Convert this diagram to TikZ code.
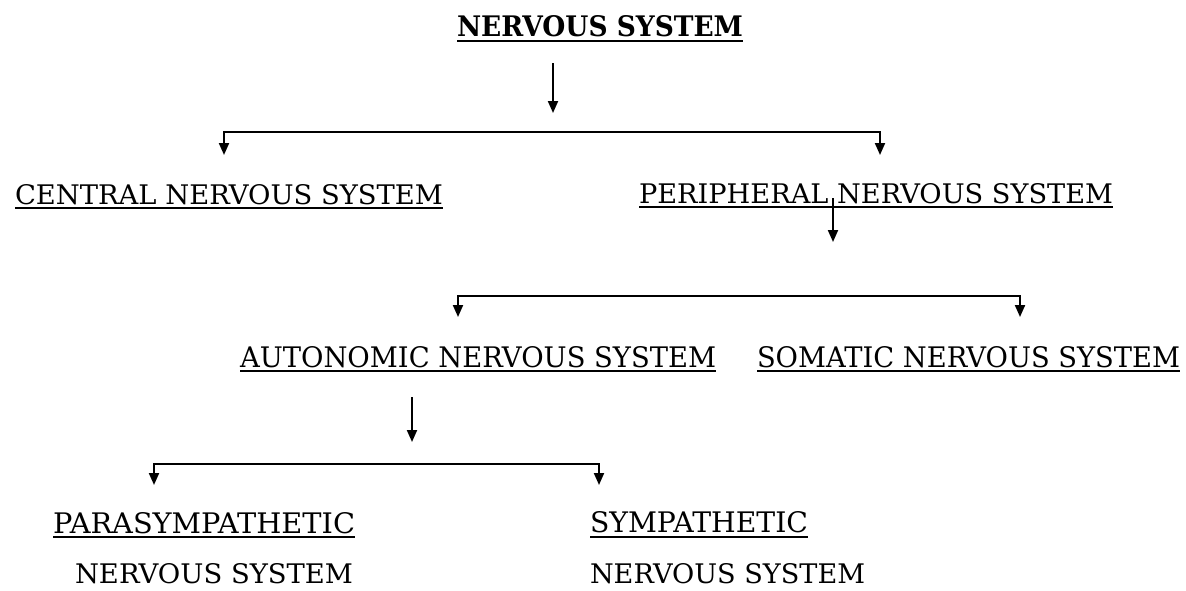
\documentclass[tikz,border=0pt]{standalone}
\usepackage{fontspec}
\usepackage{graphicx}
\setmainfont{DejaVu Serif}
\usetikzlibrary{arrows.meta}
\newcommand\fitt[3]{\resizebox{#1pt}{#2pt}{#3}}
\tikzset{
  lbl/.style={inner sep=0pt, outer sep=0pt, anchor=base west, text=black},
  uline/.style={line width=2pt, black},
  conn/.style={line width=2pt, black, -{Triangle[length=12pt,width=10pt]}},
  branch/.style={line width=2pt, black, {Triangle[length=12pt,width=10pt]}-{Triangle[length=12pt,width=10pt]}},
}
\begin{document}
\begin{tikzpicture}[x=1pt,y=-1pt]
\useasboundingbox (0,0) rectangle (1186,590);
\fill[white] (0,0) rectangle (1186,590);

% labels
\node[lbl] (title) at (457,36) {\fitt{286}{21}{\bfseries NERVOUS SYSTEM}};
\node[lbl] (cns) at (15,204) {\fitt{428}{20}{CENTRAL NERVOUS SYSTEM}};
\node[lbl] (pns) at (639,203) {\fitt{474}{20}{PERIPHERAL NERVOUS SYSTEM}};
\node[lbl] (ans) at (240,367) {\fitt{476}{21}{AUTONOMIC NERVOUS SYSTEM}};
\node[lbl] (sns) at (757,367) {\fitt{423}{21}{SOMATIC NERVOUS SYSTEM}};
\node[lbl] (para) at (53,533) {\fitt{302}{21}{PARASYMPATHETIC}};
\node[lbl] (parab) at (75,583) {\fitt{278}{20}{NERVOUS SYSTEM}};
\node[lbl] (symp) at (590,532) {\fitt{218}{21}{SYMPATHETIC}};
\node[lbl] (sympb) at (590,583) {\fitt{275}{20}{NERVOUS SYSTEM}};

% underlines
\foreach \n/\d in {title/5,cns/4,pns/4,ans/4,sns/4,para/4,symp/5}{
  \draw[uline] ([yshift=-\d pt]\n.base west) -- ([yshift=-\d pt]\n.base east);
}

% branch coordinates
\coordinate (a1s) at (553,63);
\coordinate (a1e) at (553,113);
\coordinate (b1l) at (224,155);
\coordinate (b1r) at (880,155);
\coordinate (a2s) at (833,198);
\coordinate (a2e) at (833,242);
\coordinate (b2l) at (458,317);
\coordinate (b2r) at (1020,317);
\coordinate (a3s) at (412,397);
\coordinate (a3e) at (412,442);
\coordinate (b3l) at (154,485);
\coordinate (b3r) at (599,485);

% connectors
\draw[conn] (a1s) -- (a1e);
\draw[branch] (b1l) -- ++(0,-23) -- ([yshift=23pt]b1r) -- (b1r);
\draw[conn] (a2s) -- (a2e);
\draw[branch] (b2l) -- ++(0,-21) -- ([yshift=21pt]b2r) -- (b2r);
\draw[conn] (a3s) -- (a3e);
\draw[branch] (b3l) -- ++(0,-21) -- ([yshift=21pt]b3r) -- (b3r);
\end{tikzpicture}
\end{document}
